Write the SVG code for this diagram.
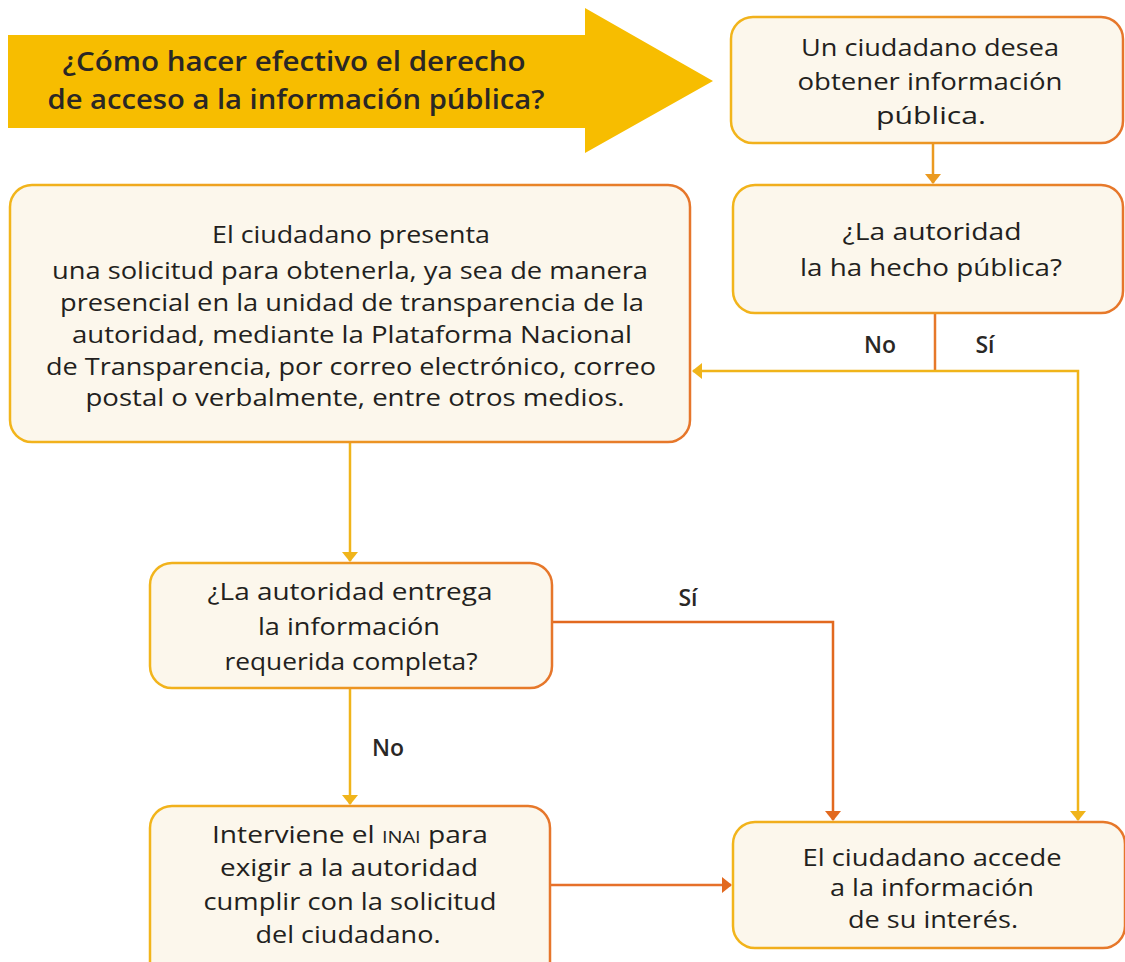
<svg xmlns="http://www.w3.org/2000/svg" width="1125" height="962" viewBox="0 0 1125 962">
<defs>
<linearGradient id="bd" x1="0" y1="0" x2="1" y2="0">
<stop offset="0" stop-color="#f2b51b"/>
<stop offset="1" stop-color="#e6762b"/>
</linearGradient>
<marker id="mY" viewBox="0 -8 10 16" refX="9" refY="0" markerWidth="10" markerHeight="16" markerUnits="userSpaceOnUse" orient="auto">
<path d="M0,-8 L10,0 L0,8 z" fill="#f0b41a"/>
</marker>
<marker id="mA" viewBox="0 -8 10 16" refX="9" refY="0" markerWidth="10" markerHeight="16" markerUnits="userSpaceOnUse" orient="auto">
<path d="M0,-8 L10,0 L0,8 z" fill="#eb9a20"/>
</marker>
<marker id="mO" viewBox="0 -8 10 16" refX="9" refY="0" markerWidth="10" markerHeight="16" markerUnits="userSpaceOnUse" orient="auto">
<path d="M0,-8 L10,0 L0,8 z" fill="#e2691f"/>
</marker>
</defs>
<style>
.box{fill:#fcf7ec;stroke:url(#bd);stroke-width:2.5}
.t{font-family:"Open Sans","Noto Sans",sans-serif;font-size:24px;fill:#231f20;text-anchor:middle}
.h{font-family:"Open Sans","Noto Sans",sans-serif;font-size:27px;font-weight:600;fill:#2a2725;text-anchor:middle}
.l{font-family:"Open Sans","Noto Sans",sans-serif;font-size:23px;font-weight:600;fill:#2a2725;text-anchor:middle}
.sc{font-size:17px}
.c{fill:none;stroke-width:2.5}
</style>
<g id="banner">
<polygon points="8,35 585,35 585,8 713,81 585,153 585,128 8,128" fill="#f7bd00"/>
<text class="h" x="294" y="71" textLength="463" lengthAdjust="spacingAndGlyphs">¿Cómo hacer efectivo el derecho</text>
<text class="h" x="296" y="109" textLength="497" lengthAdjust="spacingAndGlyphs">de acceso a la información pública?</text>
</g>
<g id="connectors">
<line class="c" x1="933" y1="143" x2="933" y2="183" stroke="#eb9a20" marker-end="url(#mA)"/>
<line class="c" x1="935" y1="313" x2="935" y2="371" stroke="#e6782a"/>
<line class="c" x1="935" y1="371" x2="693" y2="371" stroke="#f0b41a" marker-end="url(#mY)"/>
<polyline class="c" points="935,371 1078,371 1078,820" stroke="#f0b41a" marker-end="url(#mY)"/>
<line class="c" x1="350" y1="442" x2="350" y2="561" stroke="#f0b41a" marker-end="url(#mY)"/>
<polyline class="c" points="552,622 833,622 833,820" stroke="#e2691f" marker-end="url(#mO)"/>
<line class="c" x1="350" y1="688" x2="350" y2="804" stroke="#f0b41a" marker-end="url(#mY)"/>
<line class="c" x1="550" y1="885" x2="731" y2="885" stroke="#e6702a" marker-end="url(#mO)"/>
<text class="l" x="880" y="353">No</text>
<text class="l" x="985" y="353">Sí</text>
<text class="l" x="688" y="606">Sí</text>
<text class="l" x="388" y="756">No</text>
</g>
<g id="n1">
<rect class="box" x="731" y="17" width="392" height="126" rx="22"/>
<text class="t" x="930" y="56" textLength="258" lengthAdjust="spacingAndGlyphs">Un ciudadano desea</text>
<text class="t" x="930" y="90" textLength="265" lengthAdjust="spacingAndGlyphs">obtener información</text>
<text class="t" x="931" y="124" textLength="110" lengthAdjust="spacingAndGlyphs">pública.</text>
</g>
<g id="n2">
<rect class="box" x="733" y="185" width="390" height="128" rx="22"/>
<text class="t" x="932" y="240" textLength="179" lengthAdjust="spacingAndGlyphs">¿La autoridad</text>
<text class="t" x="931" y="276" textLength="262" lengthAdjust="spacingAndGlyphs">la ha hecho pública?</text>
</g>
<g id="n3">
<rect class="box" x="10" y="185" width="680" height="257" rx="22"/>
<text class="t" x="351" y="243" textLength="278" lengthAdjust="spacingAndGlyphs">El ciudadano presenta</text>
<text class="t" x="350" y="279" textLength="596" lengthAdjust="spacingAndGlyphs">una solicitud para obtenerla, ya sea de manera</text>
<text class="t" x="352" y="311" textLength="584" lengthAdjust="spacingAndGlyphs">presencial en la unidad de transparencia de la</text>
<text class="t" x="352" y="343" textLength="560" lengthAdjust="spacingAndGlyphs">autoridad, mediante la Plataforma Nacional</text>
<text class="t" x="351" y="375" textLength="610" lengthAdjust="spacingAndGlyphs">de Transparencia, por correo electrónico, correo</text>
<text class="t" x="355" y="406" textLength="539" lengthAdjust="spacingAndGlyphs">postal o verbalmente, entre otros medios.</text>
</g>
<g id="n4">
<rect class="box" x="150" y="563" width="402" height="125" rx="22"/>
<text class="t" x="350" y="600" textLength="285" lengthAdjust="spacingAndGlyphs">¿La autoridad entrega</text>
<text class="t" x="349" y="635" textLength="182" lengthAdjust="spacingAndGlyphs">la información</text>
<text class="t" x="351" y="670" textLength="253" lengthAdjust="spacingAndGlyphs">requerida completa?</text>
</g>
<g id="n5">
<rect class="box" x="150" y="806" width="400" height="180" rx="22"/>
<text class="t" x="350" y="843" textLength="276" lengthAdjust="spacingAndGlyphs">Interviene el <tspan class="sc">INAI</tspan> para</text>
<text class="t" x="349" y="876" textLength="258" lengthAdjust="spacingAndGlyphs">exigir a la autoridad</text>
<text class="t" x="350" y="910" textLength="293" lengthAdjust="spacingAndGlyphs">cumplir con la solicitud</text>
<text class="t" x="348" y="943" textLength="185" lengthAdjust="spacingAndGlyphs">del ciudadano.</text>
</g>
<g id="n6">
<rect class="box" x="733" y="822" width="392" height="126" rx="22"/>
<text class="t" x="932" y="866" textLength="259" lengthAdjust="spacingAndGlyphs">El ciudadano accede</text>
<text class="t" x="932" y="896" textLength="204" lengthAdjust="spacingAndGlyphs">a la información</text>
<text class="t" x="933" y="928" textLength="170" lengthAdjust="spacingAndGlyphs">de su interés.</text>
</g>
</svg>
